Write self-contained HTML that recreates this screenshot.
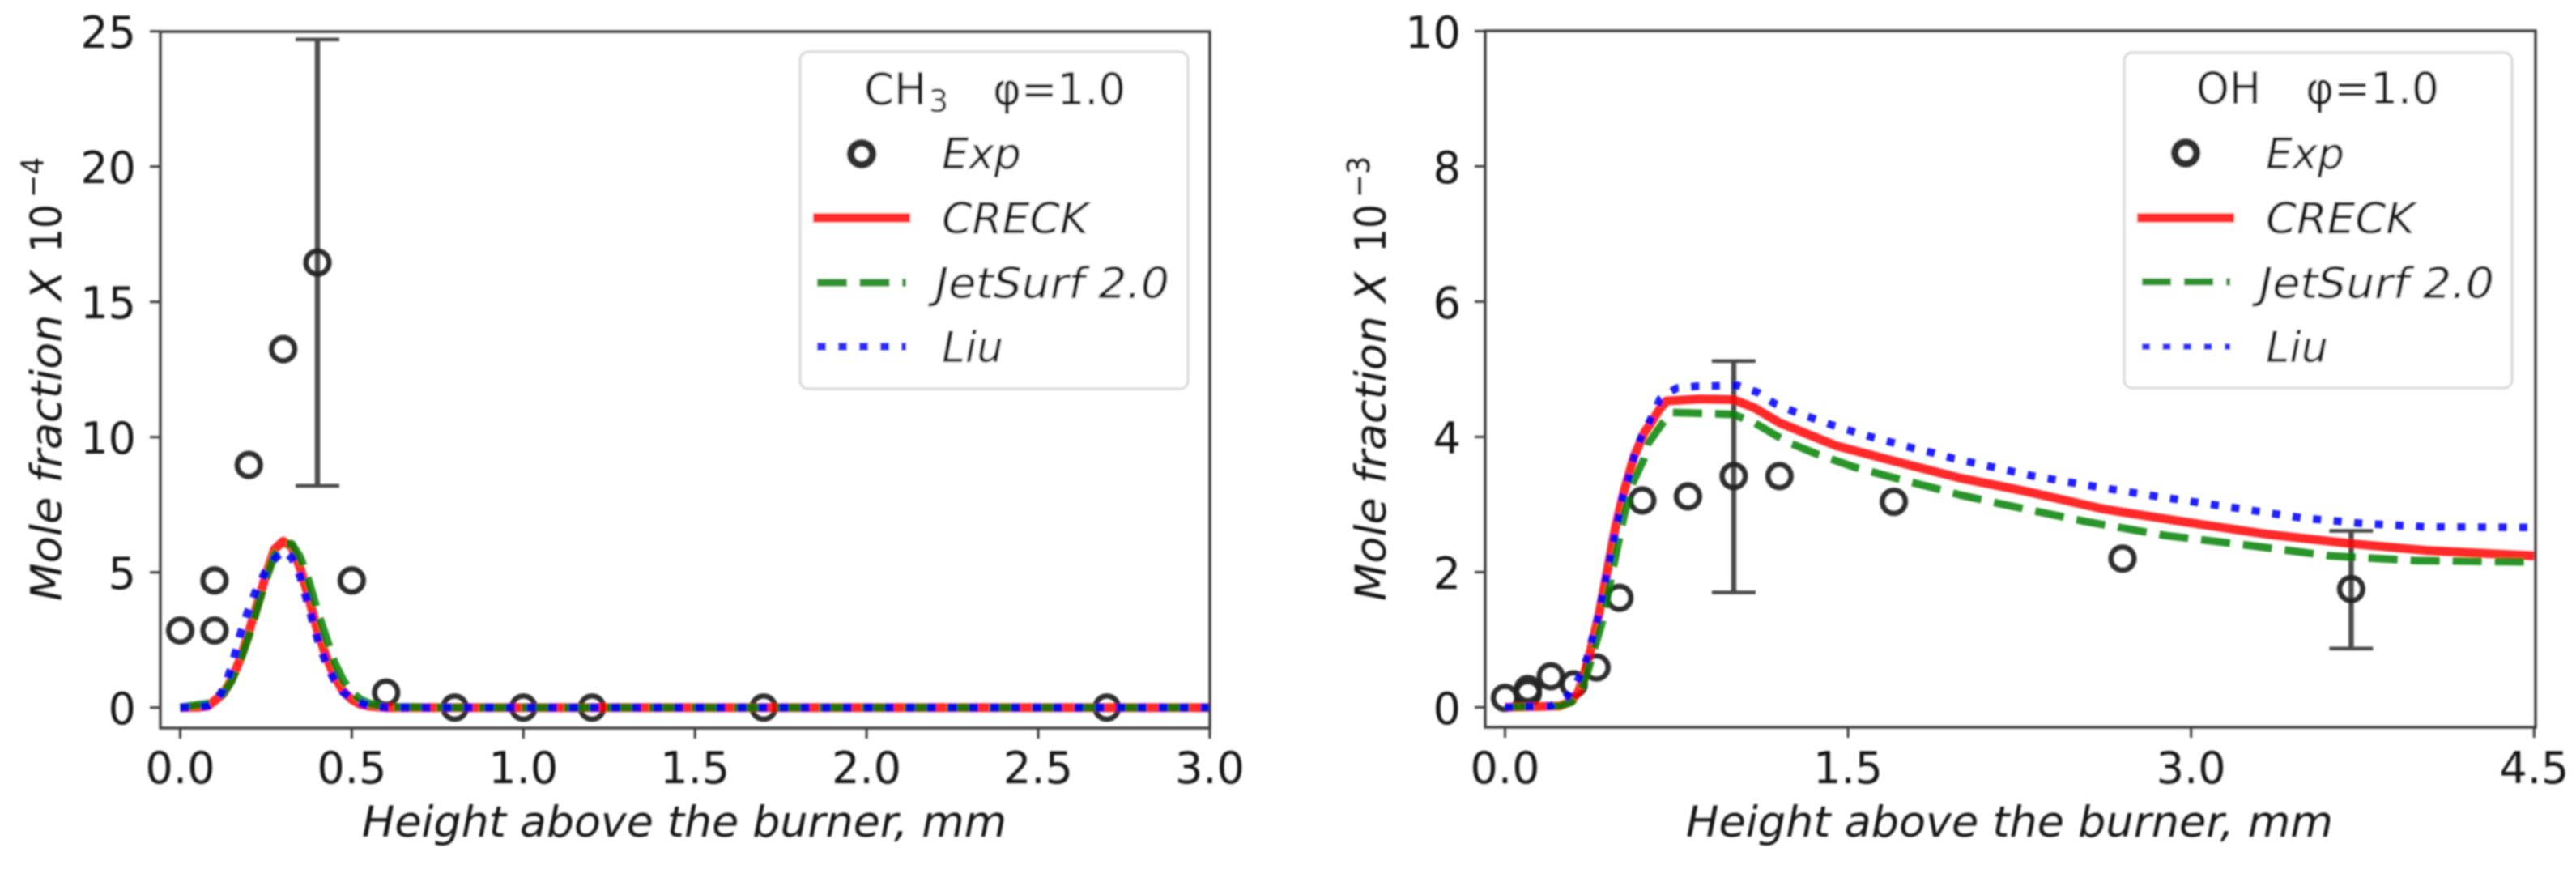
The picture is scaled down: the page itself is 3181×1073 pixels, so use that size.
<!DOCTYPE html>
<html lang="en">
<head>
<meta charset="utf-8">
<title>CH3 and OH mole fraction profiles</title>
<style>
html,body{margin:0;padding:0;background:#fff;width:3181px;height:1073px;overflow:hidden}
svg{display:block}
text{font-family:"DejaVu Sans","Liberation Sans",sans-serif;fill:#141414}
.it{font-style:italic}
.spine{stroke:#3c3c3c;stroke-width:3.4;fill:none}
.legend-box{fill:#fff;stroke:#dcdcdc;stroke-width:3.5}
</style>
</head>
<body>
<svg id="chart" xmlns="http://www.w3.org/2000/svg" width="3181" height="1073" viewBox="0 0 3181 1073">
<defs>
<filter id="soft" x="0" y="0" width="3181" height="1073" filterUnits="userSpaceOnUse"><feGaussianBlur stdDeviation="1"/></filter>
<clipPath id="clip-ch3"><rect x="198" y="39" width="1296" height="860"/></clipPath>
<clipPath id="clip-oh"><rect x="1834" y="38" width="1297" height="860"/></clipPath>
</defs>
<rect width="3181" height="1073" fill="#fff"/>
<g id="root" filter="url(#soft)">
  <g id="ch3-panel">
    <g id="ch3-ticks"></g>
    <g id="ch3-marks" clip-path="url(#clip-ch3)"></g>
    <rect class="spine" x="198" y="39" width="1296" height="860"/>
    <text class="it" x="447" y="1033" font-size="53" textLength="796" lengthAdjust="spacingAndGlyphs">Height above the burner, mm</text>
    <g>
      <text class="it" transform="translate(75.5,742) rotate(-90)" font-size="53" textLength="408" lengthAdjust="spacingAndGlyphs">Mole fraction X</text>
      <text transform="translate(75.5,312) rotate(-90)" font-size="53" textLength="60" lengthAdjust="spacingAndGlyphs">10</text>
      <text transform="translate(53.5,244) rotate(-90)" font-size="38" textLength="50" lengthAdjust="spacingAndGlyphs">−4</text>
    </g>
    <g>
      <rect class="legend-box" x="988" y="64" width="479" height="416" rx="10"/>
      <text x="1067" y="129" font-size="54" textLength="77" lengthAdjust="spacingAndGlyphs">CH</text>
      <text x="1147" y="138" font-size="38">3</text>
      <text x="1226" y="129" font-size="54" textLength="164" lengthAdjust="spacingAndGlyphs">φ=1.0</text>
      <circle cx="1064" cy="190" r="13.5" fill="none" stroke="#2e2e2e" stroke-width="9.5"/>
      <line x1="1004" x2="1124" y1="269" y2="269" stroke="#ff2a2a" stroke-width="11.5"/>
      <line x1="1009" x2="1119" y1="349" y2="349" stroke="#2a942a" stroke-width="9.5" stroke-dasharray="37 15.5"/>
      <line x1="1009" x2="1119" y1="428" y2="428" stroke="#2a2aff" stroke-width="10" stroke-dasharray="11 15"/>
      <text class="it" x="1163" y="208" font-size="53" textLength="98" lengthAdjust="spacingAndGlyphs">Exp</text>
      <text class="it" x="1163" y="288" font-size="53" textLength="181" lengthAdjust="spacingAndGlyphs">CRECK</text>
      <text class="it" x="1155" y="368" font-size="53" textLength="289" lengthAdjust="spacingAndGlyphs">JetSurf 2.0</text>
      <text class="it" x="1163" y="447" font-size="53" textLength="76" lengthAdjust="spacingAndGlyphs">Liu</text>
    </g>
  </g>
  <g id="oh-panel">
    <g id="oh-ticks"></g>
    <g id="oh-marks" clip-path="url(#clip-oh)"></g>
    <rect class="spine" x="1834" y="38" width="1297" height="860"/>
    <text class="it" x="2082" y="1033" font-size="53" textLength="799" lengthAdjust="spacingAndGlyphs">Height above the burner, mm</text>
    <g>
      <text class="it" transform="translate(1711,742) rotate(-90)" font-size="53" textLength="406" lengthAdjust="spacingAndGlyphs">Mole fraction X</text>
      <text transform="translate(1711,312) rotate(-90)" font-size="53" textLength="60" lengthAdjust="spacingAndGlyphs">10</text>
      <text transform="translate(1691,244) rotate(-90)" font-size="38" textLength="51" lengthAdjust="spacingAndGlyphs">−3</text>
    </g>
    <g>
      <rect class="legend-box" x="2623" y="65" width="479" height="414" rx="10"/>
      <text x="2712" y="128" font-size="54" textLength="80" lengthAdjust="spacingAndGlyphs">OH</text>
      <text x="2847" y="128" font-size="54" textLength="165" lengthAdjust="spacingAndGlyphs">φ=1.0</text>
      <circle cx="2699" cy="189" r="13.5" fill="none" stroke="#2e2e2e" stroke-width="9.5"/>
      <line x1="2639" x2="2759" y1="269" y2="269" stroke="#ff2a2a" stroke-width="11.5"/>
      <line x1="2645" x2="2754" y1="348" y2="348" stroke="#2a942a" stroke-width="9" stroke-dasharray="36 16"/>
      <line x1="2645" x2="2754" y1="428" y2="428" stroke="#2a2aff" stroke-width="8" stroke-dasharray="10 15.5"/>
      <text class="it" x="2798" y="208" font-size="53" textLength="97" lengthAdjust="spacingAndGlyphs">Exp</text>
      <text class="it" x="2798" y="288" font-size="53" textLength="184" lengthAdjust="spacingAndGlyphs">CRECK</text>
      <text class="it" x="2790" y="368" font-size="53" textLength="290" lengthAdjust="spacingAndGlyphs">JetSurf 2.0</text>
      <text class="it" x="2798" y="447" font-size="53" textLength="77" lengthAdjust="spacingAndGlyphs">Liu</text>
    </g>
  </g>
</g>
</svg>
<script>
/* ---------- CH3 panel data ---------- */
const ch3XTicks = [0, 0.5, 1, 1.5, 2, 2.5, 3];
const ch3XTickLabels = ['0.0', '0.5', '1.0', '1.5', '2.0', '2.5', '3.0'];
const ch3YTicks = [0, 5, 10, 15, 20, 25];
const ch3YTickLabels = ['0', '5', '10', '15', '20', '25'];
const ch3ExpX = [0, 0.1, 0.1, 0.2, 0.3, 0.4, 0.5, 0.6, 0.8, 1.0, 1.2, 1.7, 2.7];
const ch3ExpY = [2.85, 2.85, 4.7, 8.97, 13.25, 16.45, 4.7, 0.55, 0, 0, 0, 0, 0];
const ch3ErrX = [0.4];
const ch3ErrLow = [8.2];
const ch3ErrHigh = [24.7];
const ch3CurveX = [0, 0.05, 0.08, 0.1, 0.125, 0.15, 0.175, 0.2, 0.225, 0.25, 0.275, 0.3, 0.325, 0.35, 0.375, 0.4, 0.425, 0.45, 0.475, 0.5, 0.525, 0.55, 0.6, 0.8, 1, 3];
const ch3Creck = [0, 0.01, 0.05, 0.25, 0.5, 1.05, 1.8, 2.8, 3.85, 4.9, 5.85, 6.15, 5.95, 5.15, 4.05, 2.85, 1.9, 1.15, 0.6, 0.3, 0.12, 0.05, 0, 0, 0, 0];
const ch3Jetsurf = [0, 0.1, 0.14, 0.22, 0.5, 1.0, 1.75, 2.65, 3.7, 4.75, 5.65, 6.05, 6.05, 5.55, 4.65, 3.55, 2.6, 1.65, 1.0, 0.55, 0.3, 0.15, 0.02, 0, 0, 0];
const ch3Liu = [0, 0.01, 0.06, 0.2, 0.65, 1.5, 2.7, 3.65, 4.45, 5.05, 5.5, 5.8, 5.55, 4.85, 3.72, 2.55, 1.65, 1.0, 0.57, 0.33, 0.18, 0.06, 0, 0, 0, 0];

/* ---------- OH panel data ---------- */
const ohXTicks = [0, 1.5, 3, 4.5];
const ohXTickLabels = ['0.0', '1.5', '3.0', '4.5'];
const ohYTicks = [0, 2, 4, 6, 8, 10];
const ohYTickLabels = ['0', '2', '4', '6', '8', '10'];
const ohExpX = [0, 0.1, 0.1, 0.2, 0.3, 0.4, 0.5, 0.6, 0.8, 1.0, 1.2, 1.7, 2.7, 3.7];
const ohExpY = [0.14, 0.27, 0.21, 0.46, 0.34, 0.59, 1.62, 3.06, 3.12, 3.42, 3.42, 3.04, 2.2, 1.75];
const ohErrX = [1.0, 3.7];
const ohErrLow = [1.7, 0.87];
const ohErrHigh = [5.12, 2.61];
const ohCreckX = [0, 0.24, 0.283, 0.32, 0.347, 0.375, 0.411, 0.446, 0.482, 0.519, 0.563, 0.61, 0.636, 0.674, 0.706, 0.85, 1.0, 1.09, 1.2, 1.447, 1.68, 1.99, 2.27, 2.62, 2.975, 3.33, 3.7, 4.03, 4.5];
const ohCreckY = [0, 0.02, 0.08, 0.22, 0.49, 0.855, 1.385, 2.0, 2.65, 3.18, 3.7, 4.07, 4.19, 4.4, 4.53, 4.56, 4.55, 4.43, 4.21, 3.87, 3.66, 3.39, 3.2, 2.93, 2.74, 2.56, 2.42, 2.32, 2.24];
const ohJetX = [0, 0.24, 0.293, 0.328, 0.359, 0.389, 0.424, 0.475, 0.52, 0.56, 0.607, 0.625, 0.69, 0.73, 0.85, 1.0, 1.09, 1.19, 1.245, 1.36, 1.53, 1.705, 1.88, 1.99, 2.18, 2.535, 2.89, 3.24, 3.61, 3.98, 4.5];
const ohJetY = [0, 0.02, 0.08, 0.22, 0.5, 0.85, 1.25, 2.1, 2.83, 3.33, 3.67, 3.9, 4.21, 4.36, 4.35, 4.33, 4.21, 4.01, 3.91, 3.75, 3.55, 3.39, 3.24, 3.14, 3.0, 2.75, 2.54, 2.4, 2.24, 2.17, 2.15];
const ohLiuX = [0, 0.202, 0.273, 0.323, 0.359, 0.404, 0.455, 0.515, 0.542, 0.565, 0.596, 0.64, 0.678, 0.749, 0.838, 1.017, 1.103, 1.18, 1.266, 1.35, 1.434, 1.52, 1.61, 1.7, 1.786, 1.875, 1.96, 2.137, 2.31, 2.587, 2.85, 3.21, 3.487, 3.75, 4.03, 4.5];
const ohLiuY = [0, 0.02, 0.16, 0.43, 0.73, 1.3, 2.15, 3.12, 3.42, 3.72, 4.0, 4.28, 4.56, 4.72, 4.75, 4.76, 4.66, 4.49, 4.37, 4.27, 4.17, 4.08, 3.99, 3.91, 3.83, 3.76, 3.68, 3.55, 3.42, 3.26, 3.12, 2.94, 2.8, 2.72, 2.67, 2.66];

const SVG_NS = 'http://www.w3.org/2000/svg';

function make(tag, parent, attrs) {
  const el = document.createElementNS(SVG_NS, tag);
  for (const k in attrs) el.setAttribute(k, attrs[k]);
  parent.appendChild(el);
  return el;
}

function polyPoints(xs, ys, sx, sy) {
  return xs.map(function (v, i) { return sx(v).toFixed(1) + ',' + sy(ys[i]).toFixed(1); }).join(' ');
}

function drawTicks(prefix, group, sx, sy, xTicks, xLabels, yTicks, yLabels, box) {
  xTicks.forEach(function (v, i) {
    const t = make('line', group, {x1: sx(v), x2: sx(v), y1: box.bottom, y2: box.bottom + 13, stroke: '#3c3c3c', 'stroke-width': 3});
    
    
    const l = make('text', group, {x: sx(v), y: 967, 'font-size': 54, 'text-anchor': 'middle'});
    
    
    l.textContent = xLabels[i];
  });
  yTicks.forEach(function (v, i) {
    const t = make('line', group, {x1: box.left - 13, x2: box.left, y1: sy(v), y2: sy(v), stroke: '#3c3c3c', 'stroke-width': 3});
    
    
    const l = make('text', group, {x: box.left - 30, y: sy(v) + 20.5, 'font-size': 54, 'text-anchor': 'end'});
    
    
    l.textContent = yLabels[i];
  });
}

function drawErrorBars(prefix, group, sx, sy, xs, lows, highs) {
  xs.forEach(function (v, i) {
    const bar = make('line', group, {x1: sx(v), x2: sx(v), y1: sy(lows[i]), y2: sy(highs[i]), stroke: '#3c3c3c', 'stroke-width': 6.5, opacity: 0.92});
    
    
    const capLow = make('line', group, {x1: sx(v) - 27, x2: sx(v) + 27, y1: sy(lows[i]), y2: sy(lows[i]), stroke: '#484848', 'stroke-width': 4.5});
    
    
    const capHigh = make('line', group, {x1: sx(v) - 27, x2: sx(v) + 27, y1: sy(highs[i]), y2: sy(highs[i]), stroke: '#484848', 'stroke-width': 4.5});
    
    
  });
}

function drawPoints(prefix, group, sx, sy, xs, ys) {
  xs.forEach(function (v, i) {
    const c = make('circle', group, {cx: sx(v), cy: sy(ys[i]), r: 14.3, fill: 'none', stroke: '#222222', 'stroke-width': 6.5, opacity: 0.95});
    
    
  });
}

function drawCurve(name, group, sx, sy, xs, ys, color, width, dash, alpha) {
  const attrs = {points: polyPoints(xs, ys, sx, sy), fill: 'none', stroke: color, 'stroke-width': width, 'stroke-linejoin': 'round', opacity: alpha};
  if (dash) attrs['stroke-dasharray'] = dash;
  const p = make('polyline', group, attrs);
  
  
}

/* CH3 axes */
function ch3Sx(v) { return 222.5 + v * 423.8; }
function ch3Sy(v) { return 873.7 - v * 33.4; }
/* OH axes */
function ohSx(v) { return 1858.5 + v * 282.4; }
function ohSy(v) { return 873.4 - v * 83.5; }

drawTicks('ch3', document.getElementById('ch3-ticks'), ch3Sx, ch3Sy, ch3XTicks, ch3XTickLabels, ch3YTicks, ch3YTickLabels, {left: 198, bottom: 899});
const ch3Marks = document.getElementById('ch3-marks');
drawErrorBars('ch3', ch3Marks, ch3Sx, ch3Sy, ch3ErrX, ch3ErrLow, ch3ErrHigh);
drawPoints('ch3', ch3Marks, ch3Sx, ch3Sy, ch3ExpX, ch3ExpY);
drawCurve('ch3-creck-curve', ch3Marks, ch3Sx, ch3Sy, ch3CurveX, ch3Creck, '#ff0000', 11, null, 0.84);
drawCurve('ch3-jetsurf-curve', ch3Marks, ch3Sx, ch3Sy, ch3CurveX, ch3Jetsurf, '#008000', 10, '37 15.5', 0.84);
drawCurve('ch3-liu-curve', ch3Marks, ch3Sx, ch3Sy, ch3CurveX, ch3Liu, '#0000ff', 10, '11 15', 0.88);

drawTicks('oh', document.getElementById('oh-ticks'), ohSx, ohSy, ohXTicks, ohXTickLabels, ohYTicks, ohYTickLabels, {left: 1834, bottom: 898});
const ohMarks = document.getElementById('oh-marks');
drawErrorBars('oh', ohMarks, ohSx, ohSy, ohErrX, ohErrLow, ohErrHigh);
drawPoints('oh', ohMarks, ohSx, ohSy, ohExpX, ohExpY);
drawCurve('oh-creck-curve', ohMarks, ohSx, ohSy, ohCreckX, ohCreckY, '#ff0000', 11, null, 0.84);
drawCurve('oh-jetsurf-curve', ohMarks, ohSx, ohSy, ohJetX, ohJetY, '#008000', 9.5, '36 16', 0.84);
drawCurve('oh-liu-curve', ohMarks, ohSx, ohSy, ohLiuX, ohLiuY, '#0000ff', 9.5, '10 15.5', 0.88);
</script>
</body>
</html>
